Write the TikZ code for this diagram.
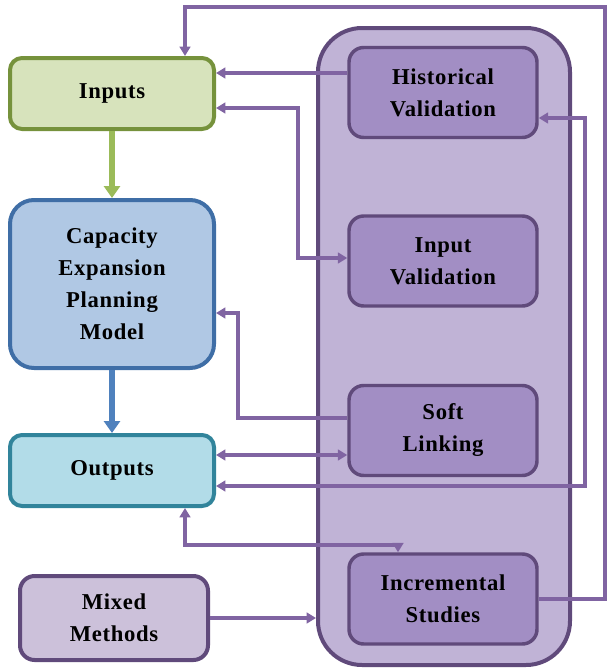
\documentclass[tikz,border=0pt]{standalone}
\usepackage{fontspec}
\setmainfont[LetterSpace=3]{Liberation Serif}
\usetikzlibrary{arrows.meta,calc}

\definecolor{inFill}{HTML}{D7E3BC}
\definecolor{inLine}{HTML}{76923C}
\definecolor{inArrow}{HTML}{9BBB59}
\definecolor{capFill}{HTML}{B0C8E4}
\definecolor{capLine}{HTML}{3F6EA6}
\definecolor{capArrow}{HTML}{4F81BD}
\definecolor{outFill}{HTML}{B2DCE8}
\definecolor{outLine}{HTML}{31849B}
\definecolor{boxFill}{HTML}{C0B3D6}
\definecolor{boxLine}{HTML}{604A7B}
\definecolor{subFill}{HTML}{A28EC4}
\definecolor{mixFill}{HTML}{CCC1DA}
\definecolor{linkPurple}{HTML}{8064A2}

\tikzset{
	block/.style={rounded corners=9pt, line width=3pt, align=center, font=\bfseries\fontsize{17}{24}\selectfont, inner sep=0pt},
	subblock/.style={block, draw=boxLine, fill=subFill, minimum width=141pt, minimum height=67.5pt, rounded corners=11pt, line width=2.6pt},
	link/.style={draw=linkPurple, line width=2.3pt, -{Triangle[length=7pt,width=8pt]}},
	dlink/.style={link, {Triangle[length=7pt,width=8pt]}-{Triangle[length=7pt,width=8pt]}},
	flow/.style={line width=3.8pt, -{Triangle[length=9pt,width=12pt]}}}

\begin{document}
\begin{tikzpicture}[x=0.75pt,y=0.75pt,yscale=-1,xscale=1]
	\path[use as bounding box] (0,0) rectangle (609,671);

	%Shape: Rounded Rect [id:container]
	\node[block, draw=boxLine, fill=boxFill, minimum width=189pt, minimum height=477.75pt, rounded corners=33pt] (valid) at (444,346.5) {};

	% Text Node
	\node[block, draw=inLine, fill=inFill, minimum width=153pt, minimum height=53.25pt] (inputs) at (112,93.5) {Inputs};
	% Text Node
	\node[block, draw=capLine, fill=capFill, minimum width=153pt, minimum height=126pt, rounded corners=18pt] (cepm) at (112,284) {Capacity\\Expansion\\Planning\\Model};
	% Text Node
	\node[block, draw=outLine, fill=outFill, minimum width=153pt, minimum height=53.25pt] (outputs) at (112,470.5) {Outputs};
	% Text Node
	\node[block, draw=boxLine, fill=mixFill, minimum width=141pt, minimum height=63pt, rounded corners=11pt] (mixed) at (114,618) {Mixed\\Methods};

	% Text Node
	\node[subblock] (hist) at (443,92.5) {Historical\\Validation};
	% Text Node
	\node[subblock] (inval) at (443,261) {Input\\Validation};
	% Text Node
	\node[subblock] (soft) at (443,430.5) {Soft\\Linking};
	% Text Node
	\node[subblock] (incr) at (443,599) {Incremental\\Studies};

	%Straight Lines [id:flow]
	\draw[flow, draw=inArrow, fill=inArrow] (inputs) -- (cepm);
	\draw[flow, draw=capArrow, fill=capArrow] (cepm) -- (outputs);

	%Straight Lines [id:links]
	\draw[link] (incr.east) -- (605,599) -- (605,7) -- (185,7) -- (inputs.north -| 185,0);
	\draw[link] (hist.west |- 0,73) -- (inputs.east |- 0,73);
	\draw[dlink] (inputs.east |- 0,108) -- (298,108) -- (298,258) -- (inval.west |- 0,258);
	\draw[dlink] (hist.east |- 0,118) -- (585,118) -- (585,486) -- (outputs.east |- 0,486);
	\draw[link] (soft.west |- 0,418) -- (238,418) -- (238,313) -- (cepm.east |- 0,313);
	\draw[dlink] (outputs.east |- 0,455) -- (soft.west |- 0,455);
	\draw[dlink] (outputs.south -| 185,0) -- (185,545) -- (398,545) -- (incr.north -| 398,0);
	\draw[link] (mixed.east) -- (valid.west |- mixed.east);

\end{tikzpicture}
\end{document}
